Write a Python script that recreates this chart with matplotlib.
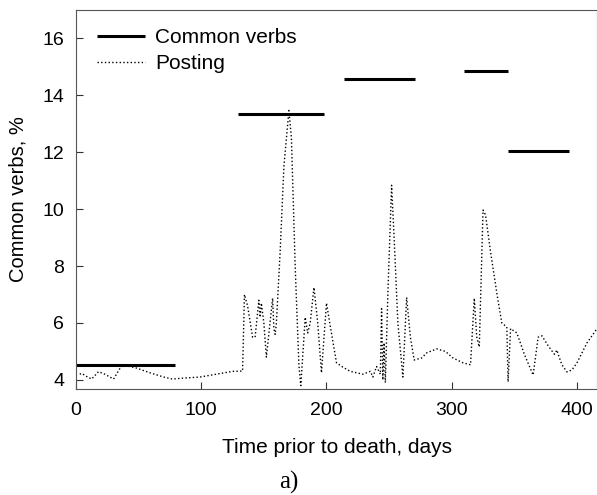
import matplotlib.pyplot as plt

# common verbs: horizontal segments (start day, end day, value)
verb_start = [0, 129, 214, 310, 345]
verb_end = [79, 198, 271, 345, 394]
verb_value = [4.53, 13.35, 14.56, 14.87, 12.04]

# posting curve
post_days = [3, 4.5, 8.5, 12.5, 18, 23, 30, 36, 40, 48, 59, 70, 77, 88, 99, 112, 125, 133,
             134.5, 137, 141, 143, 146, 147, 148, 150, 152, 157, 158, 159, 160, 163, 166, 170,
             172, 175, 178, 179.5, 182, 183, 185, 187, 190, 193, 196, 200, 203, 208, 213, 219,
             229, 235, 237, 240, 243, 244, 245, 246, 247, 249, 252, 254, 257, 261, 264, 267,
             270, 276, 280, 288, 295, 301, 309, 315, 318, 320, 322, 325, 327, 331, 336, 340,
             344, 345, 347, 352, 358, 365, 369, 372, 377, 382, 384, 385, 388, 392, 396, 400,
             408, 416]
post_vals = [4.2, 4.23, 4.12, 4.03, 4.29, 4.2, 4.03, 4.47, 4.5, 4.42, 4.25, 4.1, 4.03, 4.07, 4.1,
             4.2, 4.3, 4.31,
             7.0, 6.6, 5.5, 5.5, 6.8, 6.2, 6.7, 6.0, 4.8, 6.87, 5.8, 5.6, 6.0, 8.5, 11.5, 13.47,
             12.5, 8.0, 4.5, 3.8, 5.5, 6.2, 5.65, 6.0, 7.25, 6.0, 4.25, 6.7, 5.9, 4.6, 4.45, 4.3,
             4.2, 4.3, 4.1, 4.47, 4.2, 6.5, 4.0, 5.3, 3.9, 7.0, 10.84, 9.0, 6.0, 4.1, 6.9, 5.5,
             4.7, 4.77, 4.95, 5.09, 5.0, 4.77, 4.6, 4.53, 6.87, 5.5, 5.16, 9.97, 9.8, 8.5, 7.05, 6.0,
             5.86, 3.93, 5.8, 5.65, 4.9, 4.17, 5.5, 5.55, 5.2, 4.9, 5.05, 4.9, 4.53, 4.28, 4.35, 4.6,
             5.3, 5.8]

x_ticks = [0, 100, 200, 300, 400]
y_ticks = [4, 6, 8, 10, 12, 14, 16]

plt.rcParams['font.family'] = ['Liberation Sans', 'DejaVu Sans']

fig = plt.figure(figsize=(5.97, 4.95), dpi=100)
ax = fig.add_axes([76 / 597, 106 / 495, 1 - 76 / 597, 379 / 495])

for i in range(len(verb_start)):
    ax.plot([verb_start[i], verb_end[i]], [verb_value[i], verb_value[i]], color='black',
            linewidth=2.2, solid_capstyle='butt', label='Common verbs' if i == 0 else None)
ax.plot(post_days, post_vals, color='black', linestyle=':', linewidth=1.0, label='Posting')

ax.set_xlim(0, 416)
ax.set_ylim(3.68, 17)
ax.set_xticks(x_ticks)
ax.set_yticks(y_ticks)
ax.tick_params(direction='in', length=5, labelsize=14, color='#333333')
ax.tick_params(axis='y', pad=8.5)
ax.tick_params(axis='x', pad=9.5)
for s in ax.spines.values():
    s.set_color('#555555')

ax.set_xlabel('Time prior to death, days', fontsize=15)
ax.xaxis.set_label_coords(0.5, -0.128)
ax.set_ylabel('Common verbs, %', fontsize=14.5)
ax.yaxis.set_label_coords(-0.094, 0.5)

ax.legend(loc='upper left', frameon=False, fontsize=15, handlelength=2.3,
          handletextpad=0.5, borderaxespad=0, borderpad=0, labelspacing=0.35,
          bbox_to_anchor=(0.04, 0.953))

fig.text(289 / 597, 1 - 482 / 495, 'a)', family='Liberation Serif', fontsize=18,
         ha='center', va='center')

fig.savefig('out.png', dpi=100)
